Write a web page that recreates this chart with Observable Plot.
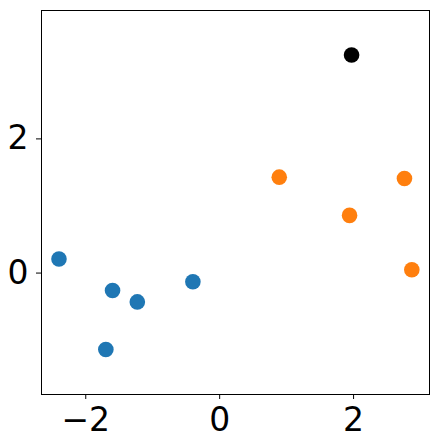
<!DOCTYPE html>
<html>
<head>
<meta charset="utf-8">
<script src="https://cdn.jsdelivr.net/npm/d3@7"></script>
<script src="https://cdn.jsdelivr.net/npm/@observablehq/plot@0.6"></script>
<style>
  html, body { margin: 0; padding: 0; background: #fff; }
  svg { display: block; }
</style>
</head>
<body>
<div id="chart"></div>
<script>
const xValues = [-2.40, -1.60, -1.23, -1.70, -0.40, 0.89, 1.94, 2.76, 2.87, 1.97];
const yValues = [0.21, -0.26, -0.43, -1.14, -0.13, 1.43, 0.86, 1.41, 0.05, 3.25];
const groups  = ["A", "A", "A", "A", "A", "B", "B", "B", "B", "C"];
const groupNames  = ["A", "B", "C"];
const groupColors = ["#1f77b4", "#ff7f0e", "#000000"];
const xTicks = [-2, 0, 2];
const yTicks = [0, 2];

const data = xValues.map((x, i) => ({x, y: yValues[i], g: groups[i]}));
const fmt = d => d < 0 ? "\u2212" + Math.abs(d) : String(d);

const chart = Plot.plot({
  width: 438,
  height: 447,
  marginLeft: 41,
  marginRight: 9,
  marginTop: 10,
  marginBottom: 53,
  style: {fontFamily: "DejaVu Sans", fontSize: "33px", color: "#000", background: "#fff"},
  x: {domain: [-2.661, 3.134]},
  y: {domain: [-1.810, 3.914]},
  color: {domain: groupNames, range: groupColors},
  marks: [
    Plot.frame({stroke: "#000", strokeWidth: 1}),
    Plot.axisX(xTicks, {tickSize: 5, tickPadding: 8, tickFormat: fmt, label: null, fontSize: 33}),
    Plot.axisY(yTicks, {tickSize: 5, tickPadding: 8, tickFormat: fmt, label: null, fontSize: 33}),
    Plot.dot(data, {x: "x", y: "y", fill: "g", r: 7.8, stroke: null})
  ]
});
document.getElementById("chart").appendChild(chart);
</script>
</body>
</html>
